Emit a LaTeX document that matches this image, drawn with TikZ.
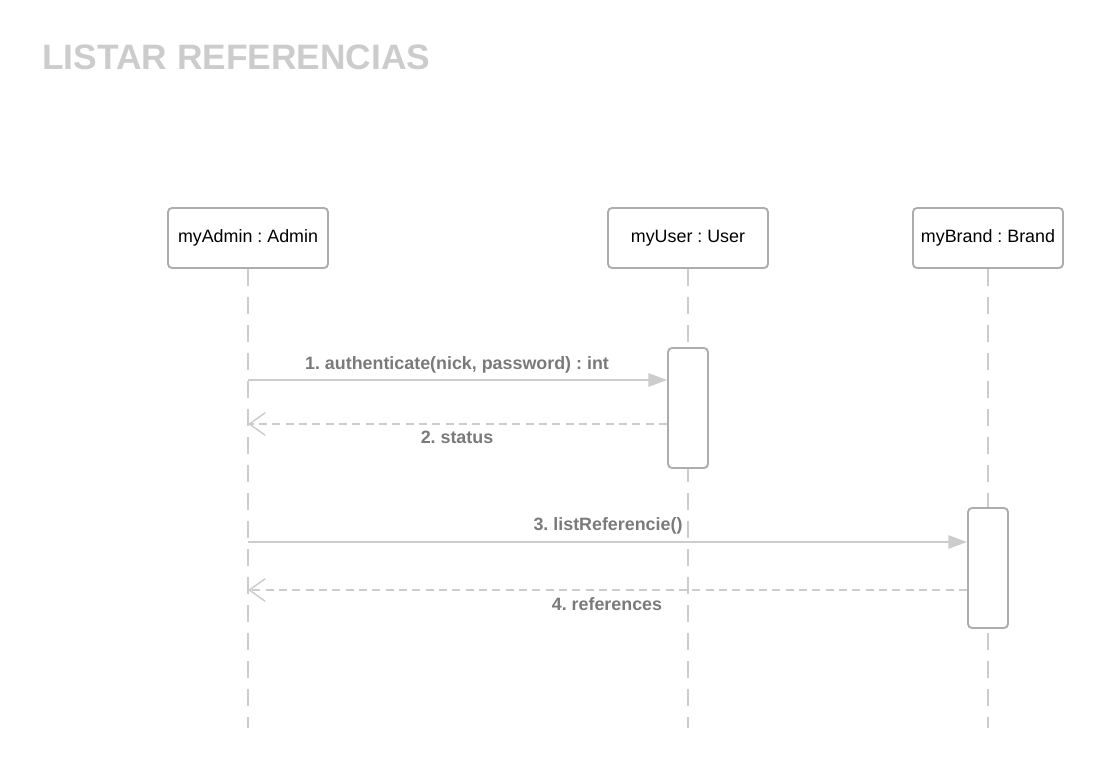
\documentclass[tikz,border=0pt]{standalone}
\usepackage{fontspec}
\setmainfont{Liberation Sans}
\usetikzlibrary{arrows.meta}
\frenchspacing
\definecolor{linegrey}{HTML}{CCCCCC}
\definecolor{boxgrey}{HTML}{ADADAD}
\definecolor{labelgrey}{HTML}{7A7A7A}
\definecolor{titlegrey}{HTML}{CCCCCC}
\tikzset{
  objbox/.style={draw=boxgrey, line width=1.4pt, rounded corners=3pt, fill=white, minimum width=120pt, minimum height=45pt, inner sep=0pt, font=\frenchspacing\fontsize{13.4}{15}\selectfont, text=black},
  actbox/.style={draw=boxgrey, line width=1.4pt, rounded corners=3pt, fill=white, minimum width=30pt, minimum height=90pt, inner sep=0pt},
  lifeline/.style={draw=linegrey, line width=1.2pt, dash pattern=on 12.5pt off 8.5pt},
  callmsg/.style={draw=linegrey, line width=1.3pt, -{Triangle[length=14pt,width=10pt]}},
  retmsg/.style={draw=linegrey, line width=1.3pt, dash pattern=on 6pt off 4pt, -{Straight Barb[length=12pt,width=17pt,line width=1.1pt]}},
  msglabel/.style={font=\frenchspacing\bfseries\fontsize{13.4}{15}\selectfont, text=labelgrey, inner sep=0pt},
}
\begin{document}
\begin{tikzpicture}[x=0.75pt,y=-0.75pt]
\useasboundingbox (0,0) rectangle (1103,768);
\node[anchor=base west, font=\bfseries\fontsize{26.5}{32}\selectfont, text=titlegrey, inner sep=0pt] (title) at (42,69) {LISTAR REFERENCIAS};

\coordinate (endA) at (248,728);
\coordinate (endU) at (688,728);
\coordinate (endB) at (988,728);

\node[objbox] (admin) at (248,238) {myAdmin : Admin};
\node[objbox] (user) at (688,238) {myUser : User};
\node[objbox, minimum width=112.5pt] (brand) at (988,238) {myBrand : Brand};

\draw[lifeline] (admin.south) -- (endA);
\draw[lifeline] (user.south) -- (endU);
\draw[lifeline] (brand.south) -- (endB);

\node[actbox] (actU) at (688,408) {};
\node[actbox] (actB) at (988,568) {};

\coordinate (m1s) at (248,380);
\coordinate (m2e) at (248,424);
\coordinate (m3s) at (248,542);
\coordinate (m4e) at (248,590);

\draw[callmsg] (m1s) -- (actU.west |- m1s);
\draw[retmsg] (actU.west |- m2e) -- (m2e);
\draw[callmsg] (m3s) -- (actB.west |- m3s);
\draw[retmsg] (actB.west |- m4e) -- (m4e);

\node[msglabel] (l1) at (457,365) {1. authenticate(nick, password) : int};
\node[msglabel] (l2) at (457,437) {2. status};
\node[msglabel] (l3) at (608,526) {3. listReferencie()};
\node[msglabel] (l4) at (607,604) {4. references};
\end{tikzpicture}
\end{document}
